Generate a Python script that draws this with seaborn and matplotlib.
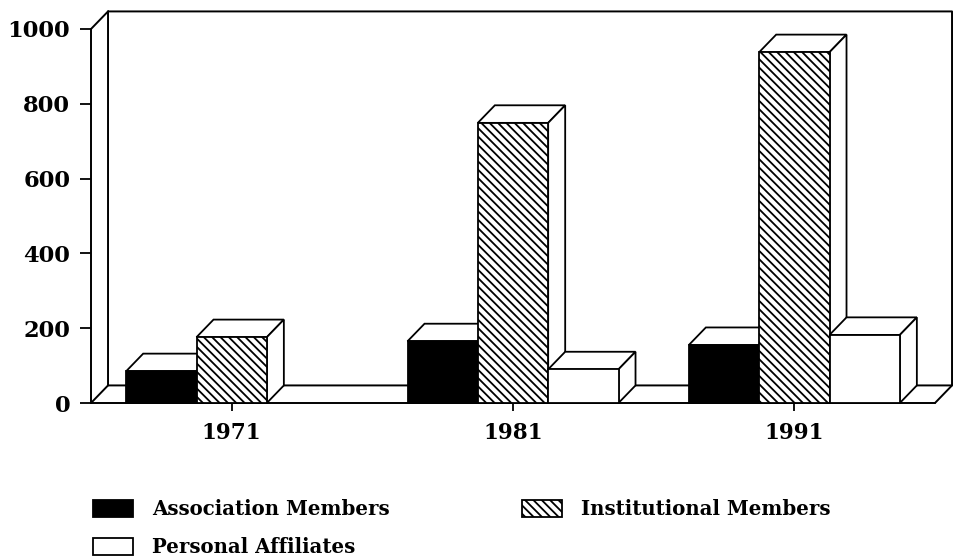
# plot.py

import pandas as pd
import matplotlib
matplotlib.use("Agg")
import matplotlib.pyplot as plt
from matplotlib.patches import Polygon
from matplotlib.lines import Line2D
import seaborn as sns

# -----------------------------
# Data
# -----------------------------
YEARS = ["1971", "1981", "1991"]
SERIES = ["Association Members", "Institutional Members", "Personal Affiliates"]
ASSOCIATION = [85, 165, 155]
INSTITUTIONAL = [176, 749, 938]
PERSONAL = [0, 90, 182]
Y_TICKS = [0, 200, 400, 600, 800, 1000]

# -----------------------------
# Configuration
# -----------------------------
FACES = ["black", "white", "white"]
HATCHES = ["", "\\\\\\\\", ""]
DEPTH_X = 17 / 281   # category units
DEPTH_Y = 47         # value units

sns.set_style("white")
plt.rcParams["font.family"] = ["DejaVu Serif"]
plt.rcParams["font.weight"] = "bold"
plt.rcParams["hatch.linewidth"] = 1.3
plt.rcParams["text.color"] = "black"

df = pd.DataFrame({
    "year": YEARS * 3,
    "series": [s for s in SERIES for _ in YEARS],
    "value": ASSOCIATION + INSTITUTIONAL + PERSONAL,
})

fig = plt.figure(figsize=(9.55, 5.59), dpi=100)
ax = fig.add_axes([91 / 955, 1 - 403 / 559, (935 - 91) / 955, (403 - 29) / 559])

sns.barplot(data=df, x="year", y="value", hue="series", hue_order=SERIES,
            order=YEARS, width=0.75, gap=0, dodge=True, ax=ax, legend=False)
ax.set_xlim(-0.5, 2.5)
ax.set_ylim(0, 1000)

# -----------------------------
# Back wall and floor
# -----------------------------
x0, x1 = ax.get_xlim()
wall = dict(color="black", lw=1.4, clip_on=False, zorder=1)
ax.add_line(Line2D([x0, x0 + DEPTH_X, x1 + DEPTH_X, x1 + DEPTH_X, x0 + DEPTH_X, x0 + DEPTH_X],
                   [1000, 1000 + DEPTH_Y, 1000 + DEPTH_Y, DEPTH_Y, DEPTH_Y, 1000 + DEPTH_Y], **wall))
ax.add_line(Line2D([x0, x0 + DEPTH_X], [0, DEPTH_Y], **wall))
ax.add_line(Line2D([x1, x1 + DEPTH_X], [0, DEPTH_Y], **wall))
ax.add_line(Line2D([x0, x0], [0, 1000], **wall))
ax.add_line(Line2D([x0, x1], [0, 0], **wall))

# -----------------------------
# Bars with 3D faces
# -----------------------------
handles = []
for s, container in enumerate(ax.containers):
    for bar in container:
        left = bar.get_x()
        right = left + bar.get_width()
        h = bar.get_height()
        z = 2 + left
        bar.set(facecolor=FACES[s], edgecolor="black", linewidth=1.3,
                hatch=HATCHES[s], zorder=z + 0.2)
        bar.set_clip_on(False)
        if h <= 0:
            bar.set_visible(False)
            continue
        top = [(left, h), (left + DEPTH_X, h + DEPTH_Y), (right + DEPTH_X, h + DEPTH_Y), (right, h)]
        side = [(right, 0), (right + DEPTH_X, DEPTH_Y), (right + DEPTH_X, h + DEPTH_Y), (right, h)]
        for pts in (top, side):
            ax.add_patch(Polygon(pts, closed=True, facecolor="white", edgecolor="black",
                                 linewidth=1.3, clip_on=False, zorder=z))
    handles.append(container[-1])

# -----------------------------
# Axes text
# -----------------------------
sns.despine(ax=ax, left=True, bottom=True, top=True, right=True)
ax.set_xlabel("")
ax.set_ylabel("")
ax.set_yticks(Y_TICKS)
ax.set_yticklabels([str(t) for t in Y_TICKS], fontsize=16.3, fontweight="bold", color="black")
ax.set_xticks(range(len(YEARS)))
ax.set_xticklabels(YEARS, fontsize=15.5, fontweight="bold", color="black")
ax.tick_params(axis="y", length=8, width=1.3, color="black", left=True, pad=7)
ax.tick_params(axis="x", length=6, width=1.3, color="black", bottom=True, pad=8)

order = [0, 2, 1]
fig.legend([handles[i] for i in order], [SERIES[i] for i in order], ncol=2,
           loc="upper left", bbox_to_anchor=(93 / 955, 1 - 499 / 559), frameon=False,
           prop={"size": 14.2, "weight": "bold"}, handlelength=2.03, handleheight=0.92,
           handletextpad=0.97, labelspacing=0.93, columnspacing=6.7, borderpad=0,
           borderaxespad=0)

fig.savefig("out.png", dpi=100)
plt.close()
